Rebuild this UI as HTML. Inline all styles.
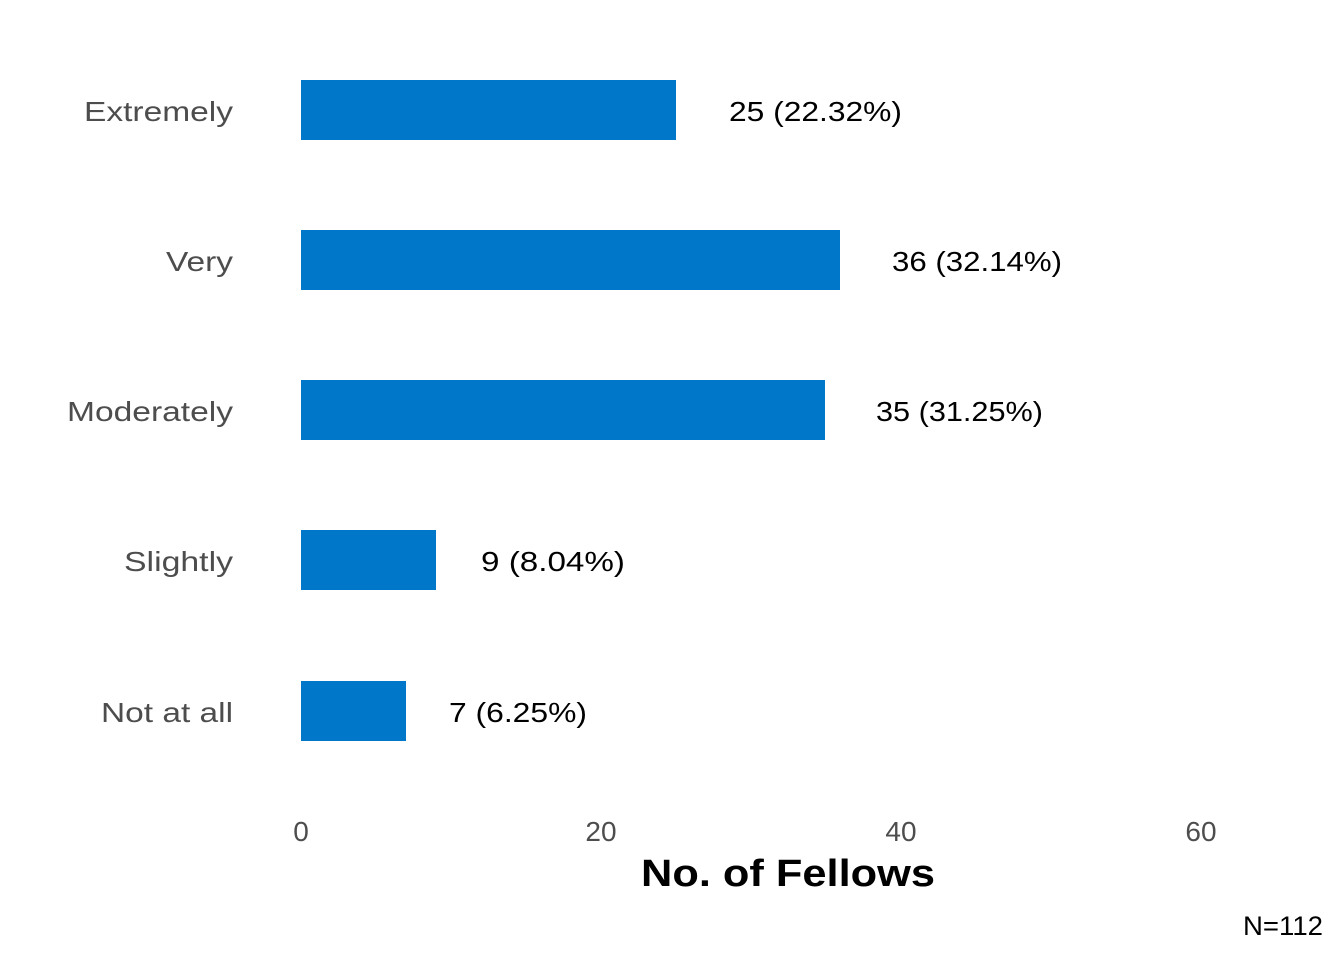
<!DOCTYPE html>
<html><head><style>
body{margin:0;background:#fff;}
svg text{font-family:"Liberation Sans",sans-serif;}
</style></head><body>
<svg width="1344" height="960" xmlns="http://www.w3.org/2000/svg">
<g fill="#0077c8">
<rect x="301" y="80" width="375" height="60"/>
<rect x="301" y="230" width="539" height="60"/>
<rect x="301" y="380" width="524" height="60"/>
<rect x="301" y="530" width="135" height="60"/>
<rect x="301" y="681" width="105" height="60"/>
</g>
<g font-size="28" fill="#4d4d4d" lengthAdjust="spacingAndGlyphs">
<text x="84" y="121" textLength="149" lengthAdjust="spacingAndGlyphs">Extremely</text>
<text x="166" y="271" textLength="67" lengthAdjust="spacingAndGlyphs">Very</text>
<text x="67" y="421" textLength="166" lengthAdjust="spacingAndGlyphs">Moderately</text>
<text x="124" y="571" textLength="109" lengthAdjust="spacingAndGlyphs">Slightly</text>
<text x="101" y="722" textLength="132" lengthAdjust="spacingAndGlyphs">Not at all</text>
</g>
<g font-size="28" fill="#000">
<text x="729" y="121" textLength="173" lengthAdjust="spacingAndGlyphs">25 (22.32%)</text>
<text x="892" y="271" textLength="170" lengthAdjust="spacingAndGlyphs">36 (32.14%)</text>
<text x="876" y="421" textLength="167" lengthAdjust="spacingAndGlyphs">35 (31.25%)</text>
<text x="481" y="571" textLength="144" lengthAdjust="spacingAndGlyphs">9 (8.04%)</text>
<text x="449" y="722" textLength="138" lengthAdjust="spacingAndGlyphs">7 (6.25%)</text>
</g>
<g font-size="28" fill="#4d4d4d" text-anchor="middle">
<text x="301" y="841">0</text>
<text x="601" y="841">20</text>
<text x="901" y="841">40</text>
<text x="1201" y="841">60</text>
</g>
<text x="641" y="886" font-size="38" font-weight="bold" fill="#000" textLength="294" lengthAdjust="spacingAndGlyphs">No. of Fellows</text>
<text x="1243" y="935" font-size="27" fill="#000" textLength="80" lengthAdjust="spacingAndGlyphs">N=112</text>
</svg>
</body></html>
